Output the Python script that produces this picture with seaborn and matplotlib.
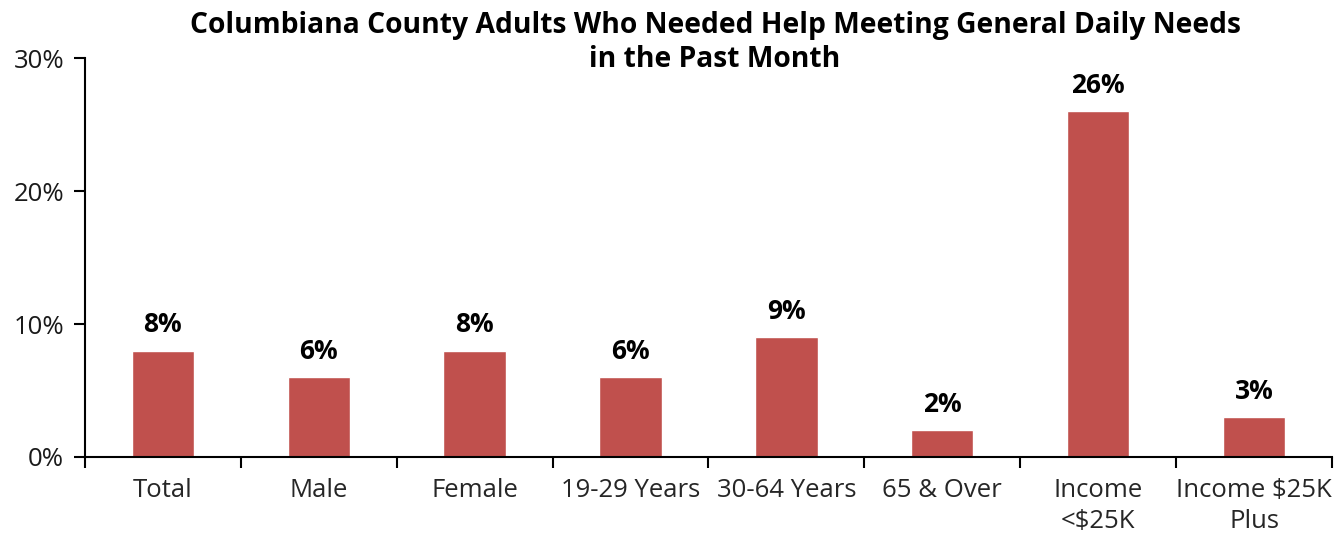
import matplotlib
matplotlib.use("Agg")
import matplotlib.pyplot as plt
from matplotlib.ticker import FixedLocator, PercentFormatter
import seaborn as sns
import pandas as pd

categories = ["Total", "Male", "Female", "19-29 Years", "30-64 Years",
              "65 & Over", "Income\n<$25K", "Income $25K\nPlus"]
values = [8, 6, 8, 6, 9, 2, 26, 3]
title_lines = ["Columbiana County Adults Who Needed Help Meeting General Daily Needs",
               "in the Past Month"]

sns.set_style("white")
plt.rcParams["font.family"] = ["Open Sans", "DejaVu Sans"]

df = pd.DataFrame({"group": categories, "pct": values})

fig = plt.figure(figsize=(13.34, 5.33), dpi=100)
ax = fig.add_axes([0.0637, 0.1426, 0.9348, 0.7484])

sns.barplot(data=df, x="group", y="pct", color="#C0504D", saturation=1,
            width=0.4, ax=ax)

ax.set_xlim(-0.5, len(categories) - 0.5)
ax.set_ylim(0, 30)
ax.set_yticks([0, 10, 20, 30])
ax.yaxis.set_major_formatter(PercentFormatter(decimals=0))
ax.set_xlabel("")
ax.set_ylabel("")

# category labels centred under bars, tick marks on category boundaries
ax.xaxis.set_major_locator(FixedLocator(range(len(categories))))
ax.set_xticklabels(categories, fontsize=18.5, linespacing=1.3)
ax.xaxis.set_minor_locator(FixedLocator([i - 0.5 for i in range(len(categories) + 1)]))
ax.tick_params(axis="x", which="major", length=0, pad=15)
ax.tick_params(axis="x", which="minor", length=8, width=1.5, direction="out",
               bottom=True, color="black")
ax.tick_params(axis="y", length=8, width=1.5, direction="out", left=True,
               labelsize=18.5, pad=7, color="black")
for lbl in ax.get_yticklabels():
    lbl.set_color("#1a1a1a")

for side in ("top", "right"):
    ax.spines[side].set_visible(False)
for side in ("left", "bottom"):
    ax.spines[side].set_color("black")
    ax.spines[side].set_linewidth(1.5)

for i, v in enumerate(values):
    ax.annotate(f"{v}%", (i, v), xytext=(0, 9), textcoords="offset points",
                ha="center", va="bottom", fontsize=19, fontweight="bold",
                color="black")

# two-line heading, each line centred over the plot area
for y, line in zip([0.953, 0.888], title_lines):
    fig.text(0.536, y, line, ha="center", va="center", fontsize=20.3,
             fontweight="bold", color="black")

fig.savefig("out.png", dpi=100)
